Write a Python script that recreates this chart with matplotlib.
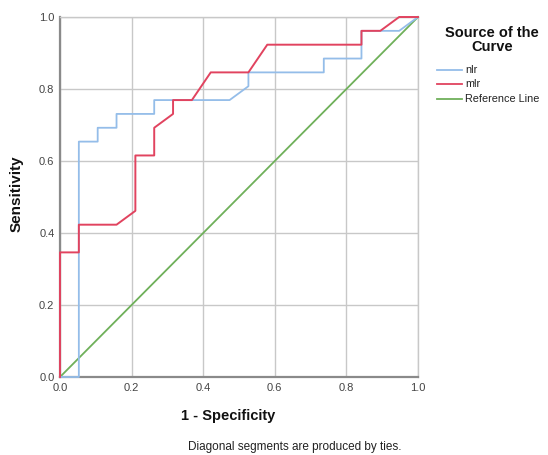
import matplotlib
matplotlib.use("Agg")
import matplotlib.pyplot as plt

plt.rcParams['font.family'] = ['Liberation Sans', 'DejaVu Sans']

# ROC data: 19 negatives, 26 positives
nlr_fpr = [0, 1/19, 1/19, 2/19, 2/19, 3/19, 3/19, 5/19, 5/19, 9/19, 10/19, 10/19, 14/19, 14/19, 16/19, 16/19, 18/19, 1]
nlr_tpr = [0, 0, 17/26, 17/26, 18/26, 18/26, 19/26, 19/26, 20/26, 20/26, 21/26, 22/26, 22/26, 23/26, 23/26, 25/26, 25/26, 1]

mlr_fpr = [0, 0, 1/19, 1/19, 3/19, 4/19, 4/19, 5/19, 5/19, 6/19, 6/19, 7/19, 8/19, 10/19, 11/19, 16/19, 16/19, 17/19, 18/19, 1]
mlr_tpr = [0, 9/26, 9/26, 11/26, 11/26, 12/26, 16/26, 16/26, 18/26, 19/26, 20/26, 20/26, 22/26, 22/26, 24/26, 24/26, 25/26, 25/26, 1, 1]

ref_x = [0, 1]
ref_y = [0, 1]

ticks = [0.0, 0.2, 0.4, 0.6, 0.8, 1.0]
tick_labels = ["0.0", "0.2", "0.4", "0.6", "0.8", "1.0"]

fig = plt.figure(figsize=(5.48, 4.55), dpi=100)
W, H = 548, 455
ax = fig.add_axes([60/W, 1 - 377/H, (418-60)/W, (377-17)/H])

c_nlr = "#94bde9"
c_mlr = "#e1435f"
c_ref = "#6fb05a"

ax.plot(ref_x, ref_y, color=c_ref, lw=1.3, zorder=3, clip_on=False)
ax.plot(nlr_fpr, nlr_tpr, color=c_nlr, lw=1.3, zorder=4, clip_on=False)
ax.plot(mlr_fpr, mlr_tpr, color=c_mlr, lw=1.4, zorder=5, clip_on=False)

ax.set_xlim(0, 1)
ax.set_ylim(0, 1)
ax.set_xticks(ticks)
ax.set_xticklabels(tick_labels)
ax.set_yticks(ticks)
ax.set_yticklabels(tick_labels)
ax.grid(True, color="#c8c8c8", lw=1.0)
ax.set_axisbelow(True)
for s in ["top", "right"]:
    ax.spines[s].set_color("#c8c8c8")
    ax.spines[s].set_linewidth(1.0)
for s in ["left", "bottom"]:
    ax.spines[s].set_color("#8a8a8a")
    ax.spines[s].set_linewidth(1.6)
ax.tick_params(length=0, labelsize=8, colors="#444444", pad=4)

fig.text(17/W, 1 - 194/H, "Sensitivity", rotation=90, ha="center", va="center",
         fontsize=11, fontweight="bold", color="#111111")
fig.text(228/W, 1 - 416/H, "1 - Specificity", ha="center", va="center",
         fontsize=10.5, fontweight="bold", color="#111111")
fig.text(295/W, 1 - 447/H, "Diagonal segments are produced by ties.", ha="center", va="center",
         fontsize=8.5, color="#222222")

# Legend
fig.text(492/W, 1 - 33/H, "Source of the", ha="center", va="center",
         fontsize=10.5, fontweight="bold", color="#111111")
fig.text(492/W, 1 - 47/H, "Curve", ha="center", va="center",
         fontsize=10.5, fontweight="bold", color="#111111")
leg_items = [("nlr", c_nlr, 70), ("mlr", c_mlr, 84), ("Reference Line", c_ref, 99)]
for name, col, yy in leg_items:
    fig.add_artist(plt.Line2D([437/W, 462/W], [1 - yy/H, 1 - yy/H], color=col, lw=1.3))
    fig.text(465/W, 1 - yy/H, name, ha="left", va="center", fontsize=7.8, color="#222222")

fig.savefig("out.png", dpi=100)
